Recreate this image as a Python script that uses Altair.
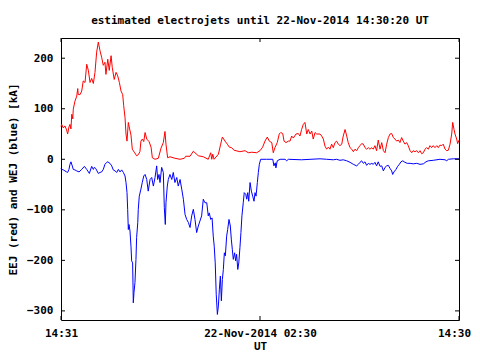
import altair as alt
import pandas as pd

# hours after 21-Nov-2014 14:31 UT
eej_t = [0.00, 0.04, 0.14, 0.24, 0.34, 0.40, 0.48, 0.54, 0.60, 0.65, 0.71, 0.74, 0.84, 0.95, 1.01, 1.04,
         1.15, 1.25, 1.34, 1.45, 1.55, 1.65, 1.75, 1.85, 1.95, 2.05, 2.15, 2.25, 2.35, 2.45, 2.55, 2.65,
         2.71, 2.82, 2.91, 3.02, 3.09, 3.21, 3.32, 3.42, 3.52, 3.62, 3.72, 3.78, 3.86, 3.92, 3.98, 4.06,
         4.14, 4.22, 4.30, 4.42, 4.56, 4.66, 4.76, 4.82, 4.90, 4.99, 5.07, 5.17, 5.31, 5.43, 5.51, 5.67,
         5.87, 6.03, 6.17, 6.27, 6.33, 6.43, 6.57, 6.87, 7.18, 7.44, 7.52, 7.78, 7.98, 8.08, 8.28, 8.58,
         8.88, 9.03, 9.09, 9.15, 9.23, 9.49, 9.63, 9.73, 9.89, 10.03, 10.15, 10.29, 10.43, 10.79, 11.10,
         11.29, 11.50, 11.80, 12.00, 12.16, 12.30, 12.44, 12.56, 12.71, 12.80, 12.90, 13.04, 13.16, 13.25,
         13.37, 13.45, 13.57, 13.71, 13.81, 13.91, 14.01, 14.17, 14.31, 14.41, 14.51, 14.61, 14.71, 14.82,
         14.91, 15.02, 15.12, 15.21, 15.32, 15.42, 15.62, 15.72, 15.82, 15.92, 16.02, 16.12, 16.22, 16.32,
         16.42, 16.52, 16.62, 16.72, 16.82, 16.93, 17.02, 17.13, 17.23, 17.32, 17.43, 17.53, 17.63, 17.73,
         17.83, 17.93, 18.03, 18.13, 18.23, 18.33, 18.43, 18.53, 18.63, 18.74, 18.83, 18.93, 19.03, 19.13,
         19.24, 19.34, 19.44, 19.54, 19.64, 19.74, 19.84, 19.94, 20.04, 20.14, 20.24, 20.34, 20.44, 20.54,
         20.64, 20.74, 20.85, 20.94, 21.05, 21.15, 21.24, 21.35, 21.45, 21.55, 21.65, 21.75, 21.85, 21.95,
         22.05, 22.15, 22.25, 22.35, 22.45, 22.55, 22.66, 22.75, 22.85, 22.96, 23.05, 23.16, 23.26, 23.36,
         23.46, 23.56, 23.62, 23.70, 23.76, 23.86, 23.92, 24.00]
eej_v = [65, 69, 62, 66, 58, 50, 64, 69, 60, 89, 80, 99, 115, 125, 140, 128,
         128, 135, 155, 152, 188, 176, 152, 160, 150, 172, 212, 232, 215, 202, 186, 192,
         168, 198, 176, 205, 182, 158, 172, 165, 152, 135, 128, 106, 83, 50, 36, 73,
         60, 48, 20, 14, 7, 9, 15, 36, 40, 35, 53, 40, 35, 24, 3, 0,
         2, 22, 33, 55, 30, 3, 5, 2, 0, 2, 6, 6, 16, 13, 7, 5,
         0, 13, 0, 10, 0, 10, 30, 44, 36, 30, 24, 23, 18, 15, 17,
         13, 14, 13, 17, 24, 36, 44, 36, 33, 13, 23, 33, 50, 53,
         51, 36, 33, 36, 36, 46, 42, 50, 51, 46, 59, 69, 73, 50,
         59, 50, 56, 40, 53, 50, 50, 46, 40, 26, 20, 24, 20, 30,
         23, 33, 36, 30, 27, 30, 46, 59, 46, 33, 23, 20, 15, 20,
         17, 23, 27, 31, 30, 23, 20, 23, 20, 23, 20, 27, 17, 38,
         20, 33, 17, 13, 30, 43, 50, 51, 43, 40, 36, 38, 33, 43,
         36, 30, 33, 27, 17, 13, 17, 15, 17, 13, 17, 11, 13, 20,
         23, 20, 27, 23, 27, 23, 27, 23, 28, 27, 30, 20, 17, 18,
         30, 50, 73, 59, 50, 40, 31, 38]

wej_t = [0.00, 0.04, 0.14, 0.24, 0.34, 0.40, 0.48, 0.54, 0.60, 0.68, 0.74, 0.84, 0.95, 1.09, 1.25, 1.41,
         1.55, 1.65, 1.71, 1.85, 1.95, 2.01, 2.09, 2.17, 2.25, 2.35, 2.45, 2.55, 2.65, 2.76, 2.82, 2.95,
         3.06, 3.15, 3.26, 3.36, 3.46, 3.56, 3.66, 3.76, 3.86, 3.92, 3.98, 4.02, 4.06, 4.10, 4.16, 4.22,
         4.26, 4.32, 4.36, 4.40, 4.46, 4.52, 4.56, 4.63, 4.66, 4.72, 4.82, 4.90, 4.99, 5.07, 5.17, 5.26,
         5.37, 5.47, 5.57, 5.67, 5.77, 5.83, 5.91, 5.97, 6.07, 6.17, 6.23, 6.29, 6.33, 6.41, 6.47, 6.57,
         6.68, 6.77, 6.87, 6.98, 7.07, 7.18, 7.28, 7.38, 7.48, 7.58, 7.68, 7.78, 7.88, 7.98, 8.08, 8.18,
         8.28, 8.38, 8.48, 8.58, 8.68, 8.79, 8.88, 8.94, 9.03, 9.11, 9.18, 9.24, 9.30, 9.36, 9.43, 9.49,
         9.55, 9.61, 9.67, 9.73, 9.79, 9.85, 9.91, 9.99, 10.05, 10.13, 10.21, 10.27, 10.33, 10.39, 10.47,
         10.53, 10.59, 10.66, 10.72, 10.79, 10.85, 10.91, 10.99, 11.05, 11.14, 11.20, 11.26, 11.32, 11.40,
         11.48, 11.56, 11.64, 11.70, 11.76, 11.84, 11.90, 11.96, 12.04, 12.40, 12.77, 12.84, 12.92, 12.96,
         13.04, 13.21, 13.51, 13.61, 13.71, 14.50, 15.62, 16.02, 16.42, 16.62, 16.82, 17.02, 17.23, 17.43,
         17.63, 17.83, 17.93, 18.03, 18.13, 18.23, 18.33, 18.43, 18.53, 18.63, 18.74, 18.83, 18.93, 19.03,
         19.13, 19.24, 19.34, 19.44, 19.54, 19.64, 19.74, 19.84, 19.94, 20.00, 20.08, 20.20, 20.30, 20.40,
         20.50, 20.61, 20.74, 20.88, 21.05, 21.24, 21.45, 21.65, 21.85, 22.01, 22.15, 22.45, 22.85, 23.16,
         23.26, 23.36, 23.66, 24.00]
wej_v = [-18, -20, -21, -23, -25, -26, -20, -10, -5, -13, -20, -21, -23, -25, -20, -14,
         -20, -25, -28, -14, -20, -16, -18, -23, -28, -26, -25, -20, -10, -6, -5, -8,
         -13, -21, -23, -26, -20, -25, -21, -26, -33, -46, -66, -99, -139, -129, -142, -172,
         -201, -205, -284, -264, -244, -198, -155, -125, -99, -73, -59, -46, -33, -30, -40, -63,
         -40, -36, -53, -36, -13, -40, -30, -46, -16, -26, -96, -129, -86, -53, -40, -30,
         -40, -26, -46, -36, -53, -40, -59, -79, -109, -119, -125, -135, -112, -99, -119, -145,
         -132, -122, -112, -79, -86, -86, -112, -106, -119, -116, -152, -172, -205, -267, -307, -290,
         -257, -231, -280, -238, -218, -185, -191, -152, -139, -119, -132, -158, -178, -198, -185,
         -201, -188, -218, -205, -175, -145, -112, -86, -66, -69, -79, -66, -83, -46,
         -63, -73, -83, -66, -73, -46, -26, -10, 0, 0, 0, -13, -7, -17,
         -3, 0, 0, -3, 0, -1, 1, 0, -1, 0, -2, -1, -3, -6,
         -10, -13, -10, -6, -3, -8, -5, -12, -8, -10, -8, -10, -6, -13,
         -5, -14, -13, -23, -16, -13, -12, -18, -23, -30, -25, -20, -14, -10,
         -5, -3, -6, -8, -8, -9, -8, -10, -9, -5, -3, -2, 0, -1,
         -3, 0, 1, 1]

y_ticks = [-300, -200, -100, 0, 100, 200]
x_ticks = [0, 12, 24]
x_labels = ["14:31", "22-Nov-2014 02:30", "14:30"]

FONT = "DejaVu Sans Mono"
W, H = 398, 282

df = pd.concat([
    pd.DataFrame({"t": eej_t, "v": eej_v, "s": "EEJ"}),
    pd.DataFrame({"t": wej_t, "v": wej_v, "s": "WEJ"}),
])

xs = alt.Scale(domain=[0, 24], nice=False, zero=False)
ys = alt.Scale(domain=[-318, 240], nice=False, zero=False)

label_expr = ("datum.value == 0 ? '%s' : datum.value == 12 ? '%s' : '%s'"
              % (x_labels[0], x_labels[1], x_labels[2]))

x_axis = alt.Axis(values=x_ticks, labelExpr=label_expr, ticks=False, domain=False,
                  grid=False, labelPadding=7, titlePadding=2, labelFlush=False,
                  labelOffset={"condition": {"test": "datum.value == 24", "value": -5}, "value": 0})
y_axis = alt.Axis(values=y_ticks, ticks=False, domain=False, grid=False,
                  labelPadding=8, titlePadding=8)
X_TITLE = "UT"
Y_TITLE = "EEJ (red) and WEJ (blue) [kA]"

lines = alt.Chart(df).mark_line(strokeWidth=1, interpolate="linear").encode(
    x=alt.X("t:Q", scale=xs, title=X_TITLE, axis=x_axis),
    y=alt.Y("v:Q", scale=ys, title=Y_TITLE, axis=y_axis),
    color=alt.Color("s:N", scale=alt.Scale(domain=["EEJ", "WEJ"], range=["#ff0000", "#0000ff"]),
                    legend=None),
    detail="s:N",
)

ydf = pd.DataFrame({"v": y_ticks})
xdf = pd.DataFrame({"t": x_ticks})

ytl = alt.Chart(ydf).mark_rule(color="black", strokeWidth=1).encode(
    y=alt.Y("v:Q", scale=ys, title=Y_TITLE, axis=y_axis), x=alt.value(0), x2=alt.value(4))
ytr = alt.Chart(ydf).mark_rule(color="black", strokeWidth=1).encode(
    y=alt.Y("v:Q", scale=ys, title=Y_TITLE, axis=y_axis), x=alt.value(W - 4), x2=alt.value(W))
xtb = alt.Chart(xdf).mark_rule(color="black", strokeWidth=1).encode(
    x=alt.X("t:Q", scale=xs, title=X_TITLE, axis=x_axis), y=alt.value(H - 4), y2=alt.value(H))
xtt = alt.Chart(xdf).mark_rule(color="black", strokeWidth=1).encode(
    x=alt.X("t:Q", scale=xs, title=X_TITLE, axis=x_axis), y=alt.value(0), y2=alt.value(4))

chart = alt.layer(lines, ytl, ytr, xtb, xtt).properties(
    width=W, height=H,
    title=alt.TitleParams("estimated electrojets until 22-Nov-2014 14:30:20 UT",
                          font=FONT, fontSize=11, fontWeight="bold", color="black",
                          anchor="middle", offset=12),
    autosize=alt.AutoSizeParams(type="none"),
    padding={"left": 53, "top": 30, "right": 13, "bottom": 32},
    background="white",
).configure_view(stroke="black", strokeWidth=1).configure_axis(
    labelFont=FONT, labelFontSize=11, labelFontWeight="bold", labelColor="black",
    titleFont=FONT, titleFontSize=11, titleFontWeight="bold", titleColor="black",
)

chart.save("out.html", embed_options={"renderer": "svg", "actions": False})
